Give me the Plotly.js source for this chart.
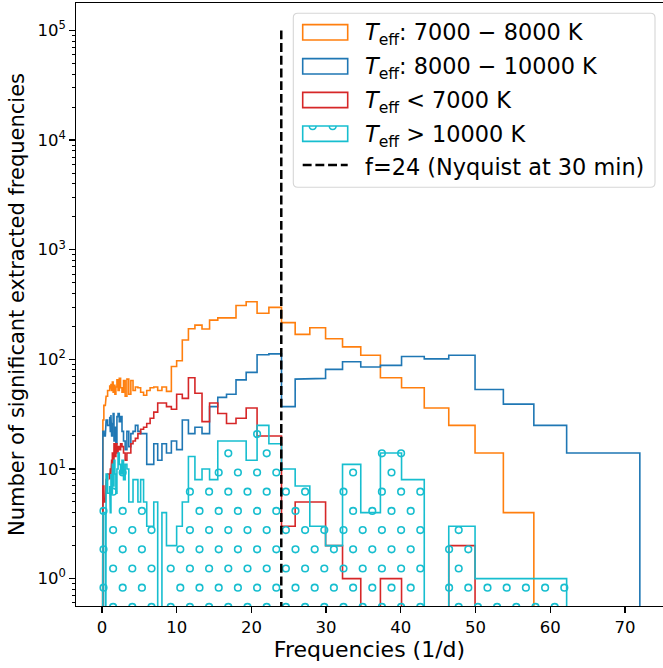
<!DOCTYPE html>
<html><head><meta charset="utf-8">
<script src="https://cdn.plot.ly/plotly-3.0.1.min.js"></script>
<style>html,body{margin:0;padding:0;background:#fff;overflow:hidden}</style>
</head><body><div id="chart" style="width:663px;height:668px"></div>
<script>
// ---------- data ----------
const binEdges = [0.05, 0.12, 0.25, 0.45, 0.55, 0.75, 1.035, 1.113, 1.198, 1.289, 1.386, 1.492, 1.605, 1.727, 1.858, 1.999,
  2.150, 2.314, 2.489, 2.678, 2.881, 3.100, 3.335, 3.588, 3.861, 4.153, 4.469, 4.808, 5.173, 5.565, 5.988, 6.442, 6.931,
  7.457, 8.023, 8.632, 9.287, 9.992, 10.75, 11.57, 12.44, 13.39, 14.40, 15.50, 16.67, 17.94, 19.30, 20.76, 22.34, 24.03,
  25.86, 27.82, 29.93, 32.20, 34.64, 37.27, 40.10, 43.14, 46.42, 49.94, 53.73, 57.81, 62.20, 66.92, 72.00];

const countsT7000to8000 = [20, 28, 38, 42, 46, 52,
  58, 55, 60, 52, 62, 50, 58, 48, 56, 65, 52, 67, 55, 50, 64, 46, 66, 48, 64, 52, 56, 55, 50, 47, 52, 55, 56, 52, 56, 51,
  86, 97, 150, 190, 205, 189, 228, 239, 239, 310, 335, 263, 298, 216, 169, 194, 154, 130, 109, 68, 55, 36, 25, 14, 4, 0, 0, 0];

const countsT8000to10000 = [18, 22, 20, 26, 28, 25,
  30, 22, 31, 20, 26, 32, 18, 24, 17, 30, 32, 27, 30, 22, 18, 15, 22, 16, 21, 22, 25, 22, 21, 21, 11, 11, 17, 12, 17, 14,
  18, 15, 28, 21, 24, 21, 37, 45, 48, 65, 76, 110, 112, 37, 66, 67, 81, 95, 85, 88, 106, 101, 109, 53, 39, 25, 14, 14];

const countsTbelow7000 = [4, 7, 5, 6, 8, 9,
  8, 10, 9, 12, 14, 11, 17, 13, 17, 14, 16, 15, 17, 16, 14, 12, 14, 14, 17, 18, 19, 21, 23, 24, 26, 29, 33, 40, 40, 37,
  35, 48, 44, 68, 49, 27, 40, 32, 26, 29, 36, 20, 20, 3, 5, 5, 2, 1, 0, 1, 0, 0, 2, 0, 0, 0, 0, 0];

const countsTabove10000 = [3, 4, 4, 0, 9, 6,
  7, 4, 9, 6, 11, 7, 12, 9, 6, 10, 14, 11, 9, 12, 8, 11, 10, 5, 5, 8, 8, 5, 8, 5, 3, 3, 5, 0, 4, 2,
  2, 3, 5, 13, 8, 10, 8, 18, 18, 18, 12, 25, 17, 10, 7, 3, 2, 11, 4, 14, 8, 0, 3, 1, 1, 1, 0, 0];

const seriesLabels = [
  '<i>T</i><sub>eff</sub>: 7000 \u2212 8000 K',
  '<i>T</i><sub>eff</sub>: 8000 \u2212 10000 K',
  '<i>T</i><sub>eff</sub> < 7000 K',
  '<i>T</i><sub>eff</sub> > 10000 K',
  'f=24 (Nyquist at 30 min)'
];
const nyquistFreq = 24;
const nyquistTop = 100000;

const xTickVals = [0, 10, 20, 30, 40, 50, 60, 70];
const yTickVals = [1, 10, 100, 1000, 10000, 100000];
const yTickText = ['10<sup>0</sup>', '10<sup>1</sup>', '10<sup>2</sup>', '10<sup>3</sup>', '10<sup>4</sup>', '10<sup>5</sup>'];

// ---------- style / layout ----------
const W = 663, H = 668;
const PL = 76, PR = 663, PT = 3, PB = 606;
const XMIN = -3.48, XMAX = 75.1, YMIN = -0.25, YMAX = 5.25;
const FLOOR = 1e-3;
const C_OR = '#ff7f0e', C_BL = '#1f77b4', C_RD = '#d62728', C_CY = '#17becf';
const FONT = 'DejaVu Sans, Verdana, sans-serif';
const F_TICK = 16.5, F_XTITLE = 22, F_YTITLE = 21, F_LEG = 22.4;

function stepPath(edges, counts) {
  const xs = [edges[0]], ys = [FLOOR];
  for (let i = 0; i < counts.length; i++) {
    const c = counts[i] > 0 ? counts[i] : FLOOR;
    xs.push(edges[i], edges[i + 1]);
    ys.push(c, c);
  }
  xs.push(edges[edges.length - 1]); ys.push(FLOOR);
  return {x: xs, y: ys};
}
function stepTrace(counts, color, name) {
  const p = stepPath(binEdges, counts);
  return {type: 'scatter', mode: 'lines', x: p.x, y: p.y, name: name, showlegend: false,
    line: {color: color, width: 1.6, shape: 'linear'}, hoverinfo: 'skip'};
}
const pxToX = px => XMIN + (px - PL) / (PR - PL) * (XMAX - XMIN);
const pyToY = py => Math.pow(10, YMAX - (py - PT) / (PB - PT) * (YMAX - YMIN));
const paperX = px => (px - PL) / (PR - PL);
const paperY = py => (PB - py) / (PB - PT);

// hatch 'o' for the >10000 K histogram: staggered grid in screen space, kept inside the step area
function hatchPoints(edges, counts) {
  const hx = [], hy = [];
  const step = 19.2, rowRef = 453.3, xEven = 228.3, xOdd = 237.9;
  for (let m = -25; m <= 9; m++) {
    const py = rowRef + m * step;
    if (py < PT - 4 || py > PB + 4) continue;
    const off = (((m % 2) + 2) % 2 === 0) ? xEven : xOdd;
    let px = off - Math.ceil((off - PL + 4) / step) * step;
    for (; px <= PR + 4; px += step) {
      const f = pxToX(px), v = pyToY(py);
      if (f < edges[0] || f >= edges[edges.length - 1]) continue;
      let b = 0;
      while (b < counts.length - 1 && f >= edges[b + 1]) b++;
      if (counts[b] > 0 && v <= counts[b] * 1.04) { hx.push(f); hy.push(v); }
    }
  }
  return {x: hx, y: hy};
}
const hp = hatchPoints(binEdges, countsTabove10000);

const traces = [
  stepTrace(countsT7000to8000, C_OR, seriesLabels[0]),
  stepTrace(countsT8000to10000, C_BL, seriesLabels[1]),
  stepTrace(countsTbelow7000, C_RD, seriesLabels[2]),
  {type: 'scatter', mode: 'markers', x: hp.x, y: hp.y, showlegend: false, hoverinfo: 'skip', cliponaxis: true,
   marker: {symbol: 'circle-open', size: 6.6, color: C_CY, line: {color: C_CY, width: 1.6}}},
  stepTrace(countsTabove10000, C_CY, seriesLabels[3]),
  {type: 'scatter', mode: 'lines', x: [nyquistFreq, nyquistFreq], y: [nyquistTop, FLOOR], name: seriesLabels[4],
   showlegend: false, hoverinfo: 'skip', line: {color: '#000', width: 2.5, dash: '8.9px,3.8px'}}
];

// minor log ticks
const minorVals = [];
for (let d = -1; d <= 5; d++) for (let k = 2; k <= 9; k++) minorVals.push(k * Math.pow(10, d));

// ---------- custom legend (matplotlib style patches) ----------
const shapes = [];
const annotations = [];
const LBx0 = 293.3, LBx1 = 655, LBy0 = 13.3, LBy1 = 187.3, LR = 4.5;
function rrPath(x0, y0, x1, y1, r) {
  const X = paperX, Y = paperY;
  return `M${X(x0 + r)},${Y(y0)} L${X(x1 - r)},${Y(y0)} Q${X(x1)},${Y(y0)} ${X(x1)},${Y(y0 + r)} ` +
         `L${X(x1)},${Y(y1 - r)} Q${X(x1)},${Y(y1)} ${X(x1 - r)},${Y(y1)} L${X(x0 + r)},${Y(y1)} ` +
         `Q${X(x0)},${Y(y1)} ${X(x0)},${Y(y1 - r)} L${X(x0)},${Y(y0 + r)} Q${X(x0)},${Y(y0)} ${X(x0 + r)},${Y(y0)} Z`;
}
shapes.push({type: 'path', xref: 'paper', yref: 'paper', path: rrPath(LBx0, LBy0, LBx1, LBy1, LR),
  fillcolor: 'rgba(255,255,255,0.8)', line: {color: '#d6d6d6', width: 1.1}, layer: 'above'});
const rowC = [32.3, 66.3, 100.0, 133.7, 165.0];
const patchX0 = 302.7, patchX1 = 347.7, patchH = 15.3, textX = 363;
const patchColors = [C_OR, C_BL, C_RD, C_CY];
for (let i = 0; i < 4; i++) {
  shapes.push({type: 'rect', xref: 'paper', yref: 'paper', x0: paperX(patchX0), x1: paperX(patchX1),
    y0: paperY(rowC[i] + patchH / 2), y1: paperY(rowC[i] - patchH / 2),
    line: {color: patchColors[i], width: 1.6}, fillcolor: 'rgba(0,0,0,0)', layer: 'above'});
}
// hatch hint on the cyan patch: two half circles hanging from the top edge
[312.7, 332.7].forEach(cx => {
  const r = 3.4, top = rowC[3] - patchH / 2;
  shapes.push({type: 'path', xref: 'paper', yref: 'paper', layer: 'above',
    path: `M${paperX(cx - r)},${paperY(top)} C${paperX(cx - r)},${paperY(top + 1.33 * r)} ${paperX(cx + r)},${paperY(top + 1.33 * r)} ${paperX(cx + r)},${paperY(top)}`,
    line: {color: C_CY, width: 1.5}});
});
shapes.push({type: 'line', xref: 'paper', yref: 'paper', x0: paperX(patchX0), x1: paperX(patchX1),
  y0: paperY(rowC[4]), y1: paperY(rowC[4]), line: {color: '#000', width: 2.5, dash: '8.9px,3.8px'}, layer: 'above'});
for (let i = 0; i < 5; i++) {
  annotations.push({xref: 'paper', yref: 'paper', x: paperX(textX), y: paperY(rowC[i] + 2), xanchor: 'left', yanchor: 'middle',
    text: seriesLabels[i], showarrow: false, font: {family: FONT, size: F_LEG, color: '#000'}});
}

const layout = {
  width: W, height: H,
  margin: {l: PL, r: W - PR, t: PT, b: H - PB, pad: 0},
  paper_bgcolor: '#fff', plot_bgcolor: '#fff',
  font: {family: FONT, color: '#000'},
  showlegend: false,
  xaxis: {range: [XMIN, XMAX], tickmode: 'array', tickvals: xTickVals, ticks: 'outside', ticklen: 5.6, tickwidth: 1.3,
    tickcolor: '#000', showline: true, linecolor: '#000', linewidth: 1.3, mirror: true, showgrid: false, zeroline: false,
    tickfont: {family: FONT, size: F_TICK, color: '#000'},
    title: {text: 'Frequencies (1/d)', font: {family: FONT, size: F_XTITLE, color: '#000'}, standoff: 5}},
  yaxis: {type: 'log', range: [YMIN, YMAX], tickmode: 'array', tickvals: yTickVals, ticktext: yTickText,
    ticks: 'outside', ticklen: 5.6, tickwidth: 1.3, tickcolor: '#000', showline: true, linecolor: '#000', linewidth: 1.3,
    mirror: false, showgrid: false, zeroline: false, tickfont: {family: FONT, size: F_TICK, color: '#000'},
    minor: {tickmode: 'array', tickvals: minorVals, ticks: 'outside', ticklen: 3.2, tickwidth: 1, tickcolor: '#000', showgrid: false},
    title: {text: 'Number of significant extracted frequencies', font: {family: FONT, size: F_YTITLE, color: '#000'}, standoff: 7}},
  shapes: shapes,
  annotations: annotations
};
Plotly.newPlot('chart', traces, layout, {staticPlot: true, displayModeBar: false});
</script>
</body></html>
